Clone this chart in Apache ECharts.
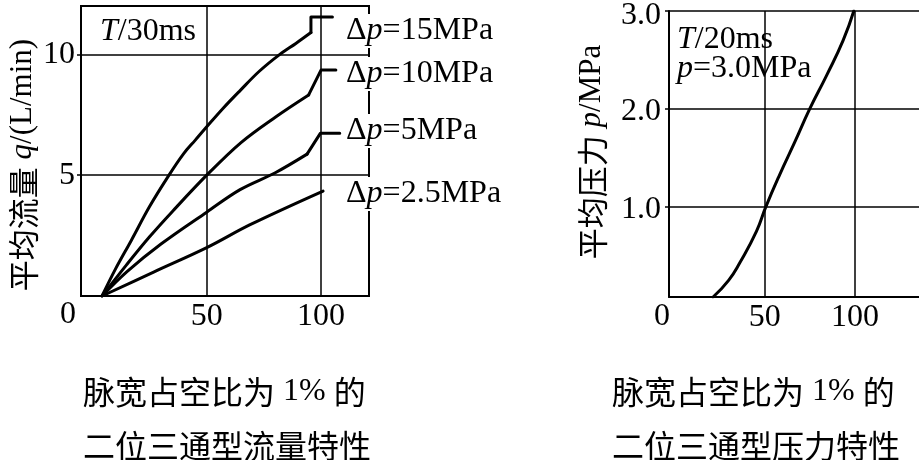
<!DOCTYPE html>
<html><head><meta charset="utf-8">
<script src="https://cdn.jsdelivr.net/npm/echarts@6/dist/echarts.min.js"></script>
<style>html,body{margin:0;padding:0;background:#fff}#c{width:919px;height:460px}</style>
</head><body><div id="c"></div>
<script>
// ---- data ----
const flowXTicks = [50, 100];
const flowYTicks = [5, 10];
const pressXTicks = [50, 100];
const pressYTicks = [1, 2, 3];
const originLabel = '0';

const flowNames = ['15MPa', '10MPa', '5MPa', '2.5MPa'];
const flow15 = [[4.2,0],[10,1.1],[17,2.3],[25,3.7],[33.5,5.0],[40,5.9],[45,6.45],[50,7.0],[57,7.75],[64.6,8.5],[73,9.3],[82,10.0],[89,10.45],[95.6,10.9],[95.6,11.55],[105,11.55]];
const flow10 = [[4.2,0],[15,1.3],[25,2.45],[35,3.5],[50,5.0],[65,6.35],[80,7.4],[94.6,8.32],[100,9.35],[106.5,9.35]];
const flow5  = [[4.2,0],[15,1.0],[30,2.15],[50,3.47],[64.6,4.4],[80,5.1],[93.9,5.87],[99.7,6.73],[108.2,6.73]];
const flow25 = [[4.2,0],[27,1.0],[50,2.0],[69,2.95],[100.9,4.34]];
// index of the point where each curve's smooth part ends (then straight segments)
const flowKinks = [13, 7, 6, 4];
const pressure = [[21.4,0.08],[30,0.25],[36.2,0.43],[45.4,0.75],[50.6,1.0],[58.3,1.33],[66.6,1.66],[74.9,2.0],[84.2,2.34],[93.4,2.7],[99.3,3.0]];

const captionsLeft = ['脉宽占空比为', '1%', '的', '二位三通型流量特性'];
const captionsRight = ['脉宽占空比为', '1%', '的', '二位三通型压力特性'];

// ---- styles ----
const SERIF = "'Liberation Serif','Times New Roman',serif";
const CJK = "'Noto Sans CJK SC'";
const FS = 32;
const TFS = 31;

function lineSeries(data, xi, smooth) {
  return { type: 'line', xAxisIndex: xi, yAxisIndex: xi, data: data, symbol: 'none',
    smooth: smooth, silent: true, animation: false,
    lineStyle: { color: '#000', width: 3, cap: 'round', join: 'round' }, z: 5 };
}
function rich(fs) {
  return {
    i: { fontFamily: SERIF, fontStyle: 'italic', fontSize: fs, color: '#000' },
    n: { fontFamily: SERIF, fontSize: fs, color: '#000' },
    c: { fontFamily: CJK, fontSize: fs, color: '#000' }
  };
}
function gtext(x, y, text, opts) {
  opts = opts || {};
  const fs = opts.fs || FS;
  return { type: 'text', x: x, y: y, rotation: opts.rot || 0, z: 100,
    style: Object.assign({ text: text, rich: rich(fs), fill: '#000', font: fs + 'px ' + SERIF,
      align: opts.align || 'left', verticalAlign: 'middle',
      textAlign: opts.align || 'left', textVerticalAlign: 'middle' }, opts.style || {}) };
}

const axisLineStyle = { show: true, onZero: false, lineStyle: { color: '#000', width: 2 } };
const splitStyle = { show: true, lineStyle: { color: '#000', width: 1.5 } };
const labelStyle = { margin: 5, fontFamily: SERIF, fontSize: FS, color: '#000' };

const flowSeries = [];
[flow15, flow10, flow5, flow25].forEach(function (arr, k) {
  const kink = flowKinks[k];
  flowSeries.push(lineSeries(arr.slice(0, kink + 1), 0, 0.35));
  if (kink < arr.length - 1) flowSeries.push(lineSeries(arr.slice(kink), 0, false));
});

const option = {
  animation: false,
  backgroundColor: '#fff',
  grid: [
    { left: 81, top: 6, width: 288, height: 290, show: true, borderColor: '#000', borderWidth: 2, backgroundColor: 'transparent' },
    { left: 669, top: 7, width: 250, height: 290 }
  ],
  xAxis: [
    { type: 'value', gridIndex: 0, min: -5, max: 121,
      axisLine: axisLineStyle,
      axisTick: { show: false, customValues: flowXTicks },
      axisLabel: Object.assign({ customValues: flowXTicks }, labelStyle),
      splitLine: splitStyle },
    { type: 'value', gridIndex: 1, min: -3, max: 135.4,
      axisLine: axisLineStyle,
      axisTick: { show: false, customValues: pressXTicks },
      axisLabel: Object.assign({ customValues: pressXTicks }, labelStyle),
      splitLine: splitStyle }
  ],
  yAxis: [
    { type: 'value', gridIndex: 0, min: 0, max: 12,
      axisLine: axisLineStyle,
      axisTick: { show: true, length: 4, customValues: flowYTicks, lineStyle: { color: '#000', width: 1.5 } },
      axisLabel: Object.assign({ customValues: flowYTicks }, labelStyle, { margin: 6 }),
      splitLine: splitStyle },
    { type: 'value', gridIndex: 1, min: 0.08, max: 3.0,
      axisLine: axisLineStyle,
      axisTick: { show: true, length: 4, customValues: pressYTicks, lineStyle: { color: '#000', width: 1.5 } },
      axisLabel: { customValues: pressYTicks, margin: 8, color: '#000',
        formatter: function (v) { return v === 3 ? '{t|3.0}' : '{n|' + v.toFixed(1) + '}'; },
        rich: { n: { fontFamily: SERIF, fontSize: FS, padding: [6, 0, 0, 0] }, t: { fontFamily: SERIF, fontSize: FS, padding: [10, 0, 0, 0] } } },
      splitLine: splitStyle }
  ],
  series: flowSeries.concat([lineSeries(pressure, 1, 0.5)]),
  graphic: { elements: [] }
};

const G = option.graphic.elements;
// origin labels
G.push(gtext(68, 315, originLabel, { align: 'center' }));
G.push(gtext(662, 317, originLabel, { align: 'center' }));
// annotations
G.push(gtext(100, 32, '{i|T}{n|/30ms}'));
const flowLabelY = [31, 74, 131, 194];
flowNames.forEach(function (nm, k) {
  G.push(gtext(346, flowLabelY[k], '{n|Δ}{i|p}{n|=' + nm + '}',
    { style: { backgroundColor: '#fff', padding: [1, 2, 1, 0] } }));
});
G.push(gtext(677, 40, '{i|T}{n|/20ms}'));
G.push(gtext(677, 69, '{i|p}{n|=3.0MPa}'));
// y-axis titles (vertical)
G.push(gtext(23, 165, '{c|平均流量} {i|q}{n|/(L/min)}', { rot: Math.PI / 2, align: 'center', fs: TFS }));
G.push(gtext(592, 152, '{c|平均压力} {i|p}{n|/MPa}', { rot: Math.PI / 2, align: 'center', fs: TFS }));
// captions
function cap1(c) { return '{c|' + c[0] + '}{n| ' + c[1] + ' }{c|' + c[2] + '}'; }
G.push(gtext(83, 392, cap1(captionsLeft)));
G.push(gtext(83, 446, '{c|' + captionsLeft[3] + '}'));
G.push(gtext(612, 392, cap1(captionsRight)));
G.push(gtext(612, 446, '{c|' + captionsRight[3] + '}'));

const chart = echarts.init(document.getElementById('c'), null, { renderer: 'canvas' });
chart.setOption(option);
</script></body></html>
